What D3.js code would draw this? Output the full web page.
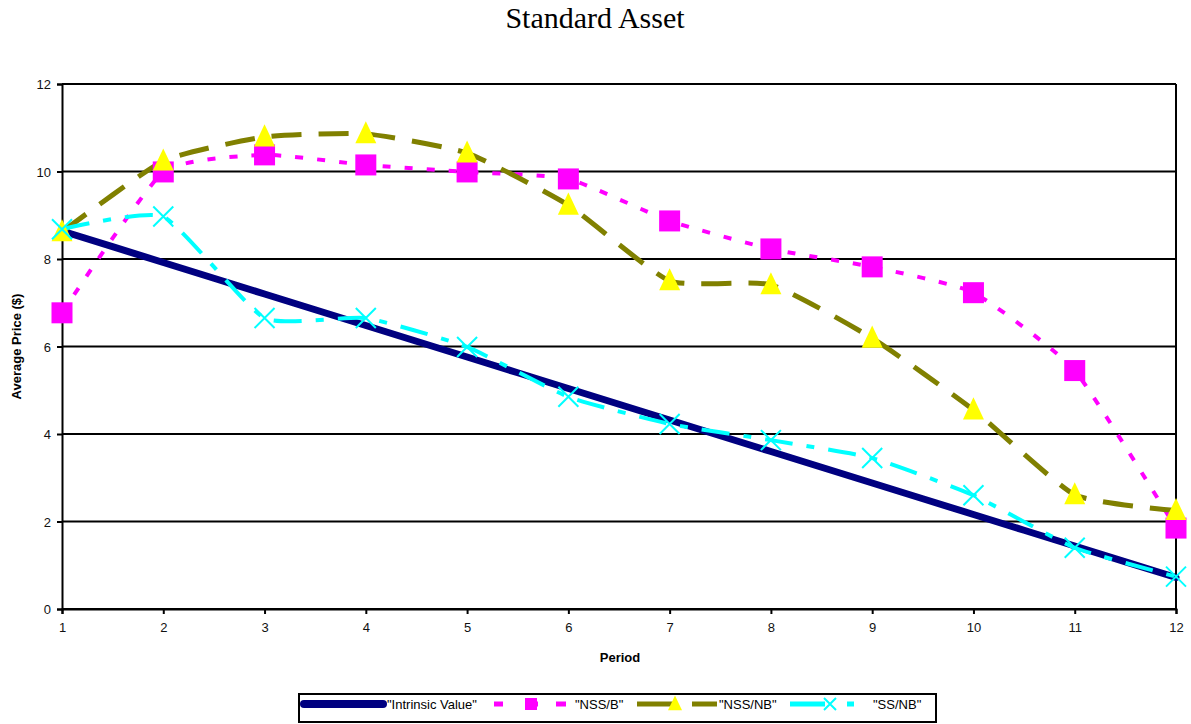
<!DOCTYPE html>
<html>
<head>
<meta charset="utf-8">
<script src="https://cdn.jsdelivr.net/npm/d3@7"></script>
<style>
  body { margin: 0; background: #fff; }
  text { font-family: "Liberation Sans", Arial, sans-serif; }
</style>
</head>
<body>
<svg class="chart" width="1191" height="724"></svg>
<script>
var periods = [1, 2, 3, 4, 5, 6, 7, 8, 9, 10, 11, 12];
var intrinsic = [8.64, 7.92, 7.2, 6.48, 5.76, 5.04, 4.32, 3.6, 2.88, 2.16, 1.44, 0.72];
var nssB  = [6.77, 9.99, 10.38, 10.15, 9.99, 9.83, 8.87, 8.23, 7.82, 7.23, 5.45, 1.85];
var nssNB = [8.62, 10.24, 10.79, 10.86, 10.42, 9.23, 7.5, 7.41, 6.19, 4.55, 2.61, 2.25];
var ssNB  = [8.68, 8.97, 6.65, 6.65, 5.99, 4.85, 4.23, 3.86, 3.45, 2.6, 1.4, 0.74];
var yTicks = [0, 2, 4, 6, 8, 10, 12];

var margin = {left: 62, right: 15, top: 84, bottom: 115};
var width = 1191 - margin.left - margin.right,
    height = 724 - margin.top - margin.bottom;

var svg = d3.select(".chart");

var x = d3.scaleLinear().domain([1, 12]).range([margin.left, margin.left + width]);
var y = d3.scaleLinear().domain([0, 12]).range([margin.top + height, margin.top]);

svg.append("text")
    .attr("x", 595).attr("y", 28)
    .attr("text-anchor", "middle")
    .style("font-family", "'Liberation Serif', 'Times New Roman', serif")
    .style("font-size", "30px")
    .text("Standard Asset");

// grid lines
svg.selectAll("line.grid")
    .data(yTicks)
  .enter().append("line")
    .attr("class", "grid")
    .attr("x1", x(1)).attr("x2", x(12))
    .attr("y1", function(d) { return y(d); })
    .attr("y2", function(d) { return y(d); })
    .attr("stroke", "#000").attr("stroke-width", 2);

svg.append("line")
    .attr("x1", x(12)).attr("x2", x(12))
    .attr("y1", y(12)).attr("y2", y(0))
    .attr("stroke", "#000").attr("stroke-width", 2);

var yAxis = svg.append("g")
    .attr("transform", "translate(" + x(1) + ",0)")
    .call(d3.axisLeft(y).tickValues(yTicks).tickSize(5).tickPadding(6).tickFormat(d3.format("d")));
var xAxis = svg.append("g")
    .attr("transform", "translate(0," + y(0) + ")")
    .call(d3.axisBottom(x).tickValues(periods).tickSize(5).tickPadding(9).tickFormat(d3.format("d")));

[xAxis, yAxis].forEach(function(ax) {
  ax.select(".domain").attr("stroke", "#000").attr("stroke-width", 2);
  ax.selectAll(".tick line").attr("stroke", "#000").attr("stroke-width", 2);
  ax.selectAll(".tick text")
      .style("font-family", "'Liberation Sans', Arial, sans-serif")
      .style("font-size", "13px").attr("fill", "#111");
});
yAxis.selectAll(".tick text").attr("dy", "0.35em");

svg.append("text")
    .attr("transform", "translate(21," + (y(6)) + ") rotate(-90)")
    .attr("text-anchor", "middle")
    .style("font-size", "13px").style("font-weight", "bold")
    .text("Average Price ($)");

svg.append("text")
    .attr("x", 620).attr("y", 662)
    .attr("text-anchor", "middle")
    .style("font-size", "13px").style("font-weight", "bold")
    .text("Period");

var series = [
  {name: "\"Intrinsic Value\"", values: intrinsic, color: "#000080", width: 7, dash: null, marker: null},
  {name: "\"NSS/B\"", values: nssB, color: "#ff00ff", width: 4, dash: "8,14", marker: "square"},
  {name: "\"NSS/NB\"", values: nssNB, color: "#808000", width: 5, dash: "30,17", marker: "triangle"},
  {name: "\"SS/NB\"", values: ssNB, color: "#00ffff", width: 4, dash: "28,14,8,14", marker: "x"}
];

var line = d3.line()
    .x(function(d, i) { return x(periods[i]); })
    .y(function(d) { return y(d); })
    .curve(d3.curveCardinal.tension(0.5));

series.forEach(function(s) {
  svg.append("path")
      .datum(s.values)
      .attr("d", line)
      .attr("fill", "none")
      .attr("stroke", s.color)
      .attr("stroke-width", s.width)
      .attr("stroke-dasharray", s.dash)
      .attr("stroke-linecap", s.dash ? "butt" : "round");
});

function drawMarker(g, type, cx, cy, size) {
  if (type == "square") {
    g.append("rect")
        .attr("x", cx - size / 2).attr("y", cy - size / 2)
        .attr("width", size).attr("height", size)
        .attr("fill", "#ff00ff");
  } else if (type == "triangle") {
    g.append("path")
        .attr("d", "M" + cx + "," + (cy - size * 0.6) + "L" + (cx + size / 2) + "," + (cy + size * 0.45) +
              "L" + (cx - size / 2) + "," + (cy + size * 0.45) + "Z")
        .attr("fill", "#ffff00");
  } else if (type == "x") {
    var h = size / 2;
    g.append("path")
        .attr("d", "M" + (cx - h) + "," + (cy - h) + "L" + (cx + h) + "," + (cy + h) +
              "M" + (cx - h) + "," + (cy + h) + "L" + (cx + h) + "," + (cy - h))
        .attr("stroke", "#00ffff").attr("stroke-width", 2).attr("fill", "none");
  }
}

var markers = svg.append("g");
series.forEach(function(s) {
  if (!s.marker) return;
  s.values.forEach(function(v, i) {
    drawMarker(markers, s.marker, x(periods[i]), y(v), s.marker == "x" ? 20 : 21);
  });
});

// legend
var legend = svg.append("g");
legend.append("rect")
    .attr("x", 299).attr("y", 694).attr("width", 637).attr("height", 28)
    .attr("fill", "#fff").attr("stroke", "#000").attr("stroke-width", 2);

var ly = 704;
var legendItems = [
  {x1: 304, x2: 383, tx: 387, mx: null, dash: null},
  {x1: 494, x2: 566, tx: 575, mx: 531, dash: "9,22,13,18,10"},
  {x1: 637, x2: 717, tx: 719, mx: 675, dash: "36,19,25"},
  {x1: 790, x2: 854, tx: 873, mx: 830, dash: "35,22,7"}
];
series.forEach(function(s, i) {
  var it = legendItems[i];
  legend.append("line")
      .attr("x1", it.x1).attr("x2", it.x2).attr("y1", ly).attr("y2", ly)
      .attr("stroke", s.color)
      .attr("stroke-width", i == 0 ? 8 : 5)
      .attr("stroke-linecap", i == 0 ? "round" : "butt")
      .attr("stroke-dasharray", it.dash);
  if (s.marker) drawMarker(legend, s.marker, it.mx, ly, s.marker == "triangle" ? 14 : 12);
  legend.append("text")
      .attr("x", it.tx).attr("y", ly).attr("dy", "0.35em")
      .style("font-size", "13px")
      .text(s.name);
});
</script>
</body>
</html>
